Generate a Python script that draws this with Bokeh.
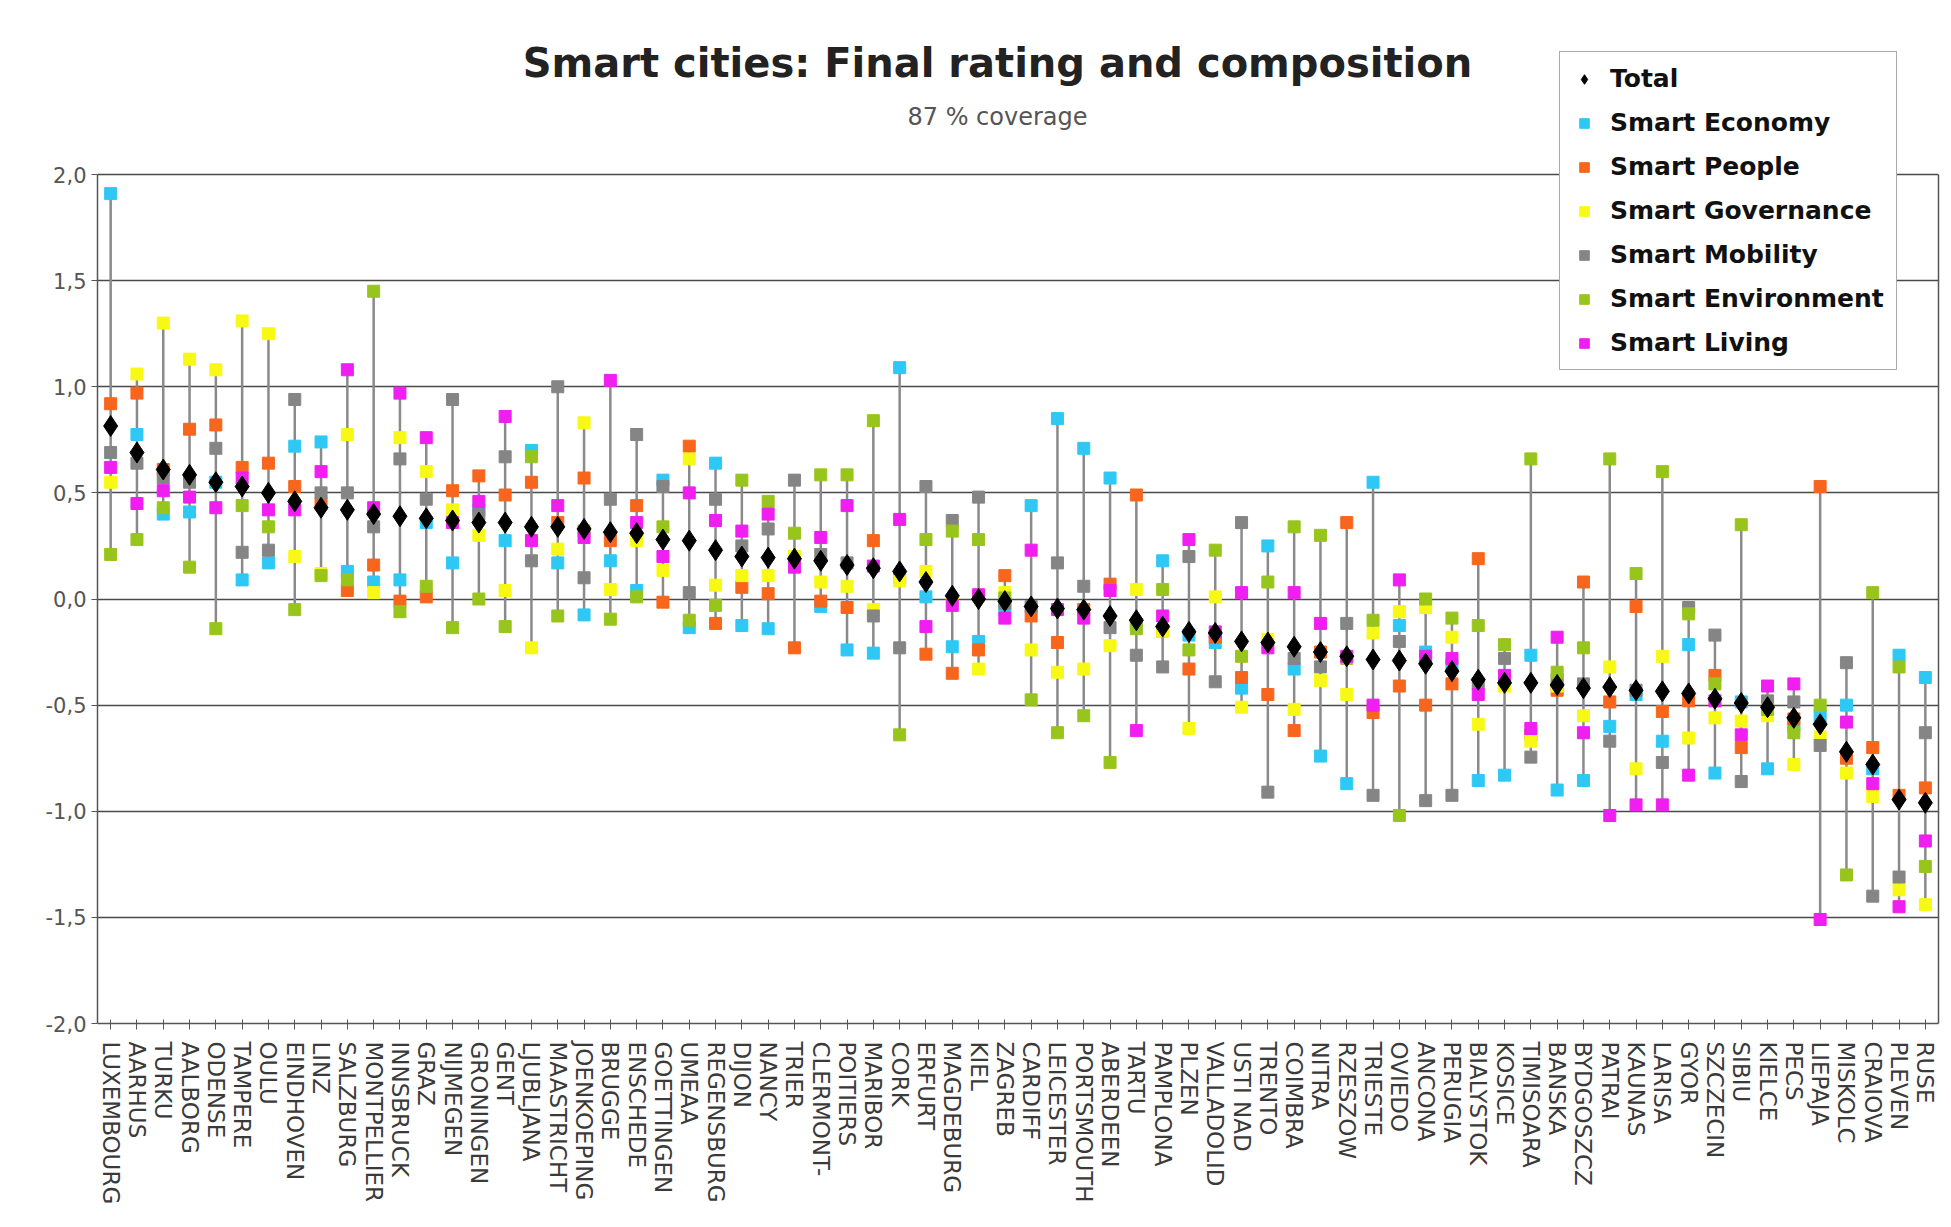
from bokeh.plotting import figure
from bokeh.models import FactorRange, Range1d, FixedTicker, Legend, LegendItem, Label, LinearAxis
from bokeh.embed import file_html
from bokeh.resources import INLINE

cities = ["LUXEMBOURG", "AARHUS", "TURKU", "AALBORG", "ODENSE", "TAMPERE", "OULU", "EINDHOVEN", "LINZ", "SALZBURG",
          "MONTPELLIER", "INNSBRUCK", "GRAZ", "NIJMEGEN", "GRONINGEN", "GENT", "LJUBLJANA", "MAASTRICHT", "JOENKOEPING", "BRUGGE",
          "ENSCHEDE", "GOETTINGEN", "UMEAA", "REGENSBURG", "DIJON", "NANCY", "TRIER", "CLERMONT-", "POITIERS", "MARIBOR",
          "CORK", "ERFURT", "MAGDEBURG", "KIEL", "ZAGREB", "CARDIFF", "LEICESTER", "PORTSMOUTH", "ABERDEEN", "TARTU",
          "PAMPLONA", "PLZEN", "VALLADOLID", "USTI NAD", "TRENTO", "COIMBRA", "NITRA", "RZESZOW", "TRIESTE", "OVIEDO",
          "ANCONA", "PERUGIA", "BIALYSTOK", "KOSICE", "TIMISOARA", "BANSKA", "BYDGOSZCZ", "PATRAI", "KAUNAS", "LARISA",
          "GYOR", "SZCZECIN", "SIBIU", "KIELCE", "PECS", "LIEPAJA", "MISKOLC", "CRAIOVA", "PLEVEN", "RUSE"]

total = [0.815, 0.69, 0.61, 0.585, 0.55, 0.53, 0.50, 0.46, 0.43, 0.42,
         0.40, 0.39, 0.38, 0.37, 0.36, 0.36, 0.34, 0.34, 0.33, 0.315,
         0.31, 0.28, 0.275, 0.23, 0.20, 0.195, 0.19, 0.18, 0.16, 0.145,
         0.13, 0.08, 0.015, 0.0, -0.01, -0.035, -0.045, -0.05, -0.08, -0.10,
         -0.13, -0.155, -0.16, -0.20, -0.205, -0.225, -0.25, -0.27, -0.285, -0.29,
         -0.305, -0.34, -0.38, -0.395, -0.395, -0.405, -0.42, -0.415, -0.43, -0.435,
         -0.445, -0.47, -0.49, -0.51, -0.56, -0.59, -0.72, -0.78, -0.945, -0.96]

economy = [1.91, 0.775, 0.40, 0.41, 0.55, 0.09, 0.17, 0.72, 0.74, 0.13,
           0.08, 0.09, 0.36, 0.17, 0.42, 0.275, 0.70, 0.17, -0.075, 0.18,
           0.04, 0.56, -0.135, 0.64, -0.125, -0.14, 0.20, -0.035, -0.24, -0.255,
           1.09, 0.01, -0.225, -0.20, -0.05, 0.44, 0.85, 0.71, 0.57, -0.12,
           0.18, -0.17, -0.205, -0.42, 0.25, -0.33, -0.74, -0.87, 0.55, -0.125,
           -0.25, -0.31, -0.855, -0.83, -0.265, -0.90, -0.855, -0.60, -0.45, -0.67,
           -0.215, -0.82, -0.485, -0.80, -0.60, -0.55, -0.50, -0.80, -0.265, -0.37]

people = [0.92, 0.97, 0.61, 0.80, 0.82, 0.62, 0.64, 0.53, 0.45, 0.04,
          0.16, -0.01, 0.01, 0.51, 0.58, 0.49, 0.55, 0.36, 0.57, 0.275,
          0.44, -0.015, 0.72, -0.115, 0.055, 0.025, -0.23, -0.01, -0.04, 0.275,
          0.10, -0.26, -0.35, -0.24, 0.11, -0.08, -0.205, -0.05, 0.07, 0.49,
          -0.15, -0.33, -0.18, -0.37, -0.45, -0.62, -0.25, 0.36, -0.535, -0.41,
          -0.50, -0.40, 0.19, -0.38, -0.64, -0.43, 0.08, -0.485, -0.035, -0.53,
          -0.48, -0.36, -0.70, -0.50, -0.565, 0.53, -0.75, -0.70, -0.925, -0.89]

governance = [0.55, 1.06, 1.30, 1.13, 1.08, 1.31, 1.25, 0.20, 0.12, 0.775,
              0.03, 0.76, 0.60, 0.42, 0.30, 0.04, -0.23, 0.235, 0.83, 0.045,
              0.275, 0.135, 0.66, 0.065, 0.11, 0.11, 0.20, 0.08, 0.06, -0.05,
              0.085, 0.13, -0.01, -0.33, 0.03, -0.24, -0.345, -0.33, -0.22, 0.045,
              -0.15, -0.61, 0.01, -0.51, -0.19, -0.52, -0.385, -0.45, -0.16, -0.06,
              -0.04, -0.18, -0.59, -0.41, -0.67, -0.41, -0.55, -0.32, -0.80, -0.27,
              -0.655, -0.56, -0.575, -0.55, -0.78, -0.65, -0.82, -0.93, -1.37, -1.44]

mobility = [0.69, 0.64, 0.57, 0.55, 0.71, 0.22, 0.23, 0.94, 0.50, 0.50,
            0.34, 0.66, 0.47, 0.94, 0.40, 0.67, 0.18, 1.0, 0.10, 0.47,
            0.775, 0.53, 0.03, 0.47, 0.25, 0.33, 0.56, 0.21, 0.17, -0.08,
            -0.23, 0.53, 0.37, 0.48, -0.02, -0.035, 0.17, 0.06, -0.135, -0.265,
            -0.32, 0.20, -0.39, 0.36, -0.91, -0.28, -0.32, -0.115, -0.925, -0.20,
            -0.95, -0.925, -0.40, -0.28, -0.745, -0.38, -0.40, -0.67, -0.43, -0.77,
            -0.04, -0.17, -0.86, -0.48, -0.485, -0.69, -0.30, -1.40, -1.31, -0.63]

environment = [0.21, 0.28, 0.43, 0.15, -0.14, 0.44, 0.34, -0.05, 0.11, 0.09,
               1.45, -0.06, 0.06, -0.135, 0.0, -0.13, 0.67, -0.08, 0.32, -0.095,
               0.01, 0.34, -0.10, -0.03, 0.56, 0.46, 0.31, 0.585, 0.585, 0.84,
               -0.64, 0.28, 0.32, 0.28, 0.005, -0.475, -0.63, -0.55, -0.77, -0.14,
               0.045, -0.24, 0.23, -0.27, 0.08, 0.34, 0.30, -0.28, -0.10, -1.02,
               0.0, -0.09, -0.125, -0.215, 0.66, -0.345, -0.23, 0.66, 0.12, 0.60,
               -0.07, -0.40, 0.35, -0.52, -0.63, -0.50, -1.30, 0.03, -0.32, -1.26]

living = [0.62, 0.45, 0.51, 0.48, 0.43, 0.57, 0.42, 0.42, 0.60, 1.08,
          0.43, 0.97, 0.76, 0.36, 0.46, 0.86, 0.275, 0.44, 0.29, 1.03,
          0.36, 0.20, 0.50, 0.37, 0.32, 0.40, 0.15, 0.29, 0.44, 0.155,
          0.375, -0.13, -0.03, 0.02, -0.09, 0.23, -0.05, -0.09, 0.04, -0.62,
          -0.08, 0.28, -0.155, 0.03, -0.23, 0.03, -0.115, -0.27, -0.50, 0.09,
          -0.27, -0.28, -0.45, -0.36, -0.61, -0.18, -0.63, -1.02, -0.97, -0.97,
          -0.83, -0.48, -0.64, -0.41, -0.40, -1.51, -0.58, -0.87, -1.45, -1.14]

series_names = ["Smart Economy", "Smart People", "Smart Governance", "Smart Mobility", "Smart Environment", "Smart Living"]
series_values = [economy, people, governance, mobility, environment, living]
series_colors = ["#2ec8f5", "#f7661c", "#f8f815", "#858585", "#98c51c", "#f01ef0"]

y_ticks = [-2.0, -1.5, -1.0, -0.5, 0.0, 0.5, 1.0, 1.5, 2.0]
y_tick_labels = ["-2,0", "-1,5", "-1,0", "-0,5", "0,0", "0,5", "1,0", "1,5", "2,0"]

title_text = "Smart cities: Final rating and composition"
subtitle_text = "87 % coverage"

FONT = "DejaVu Sans"
GRID = "#4a4a4a"

# Plot frame extends above 2,0 so that the legend may overlap the header area
p = figure(x_range=FactorRange(*cities), y_range=Range1d(-2.0, 2.7727),
           width=1942, height=1215, output_backend="svg", toolbar_location=None,
           min_border_left=97, min_border_right=4, min_border_top=10, min_border_bottom=192,
           background_fill_color="white", border_fill_color="white")

p.outline_line_color = None
p.xgrid.grid_line_color = None
p.ygrid.ticker = FixedTicker(ticks=y_ticks)
p.ygrid.grid_line_color = GRID
p.ygrid.grid_line_width = 1.5

p.yaxis.ticker = FixedTicker(ticks=y_ticks)
p.yaxis.bounds = (-2.0, 2.0)
p.yaxis.major_label_overrides = {t: l for t, l in zip(y_ticks, y_tick_labels)}
p.yaxis.major_label_text_font = FONT
p.yaxis.major_label_text_font_size = "21px"
p.yaxis.major_label_text_color = "#555555"
p.yaxis.axis_line_color = "#555555"
p.yaxis.axis_line_width = 1.5
p.yaxis.major_tick_line_color = "#555555"
p.yaxis.major_tick_in = 0
p.yaxis.major_tick_out = 6
p.yaxis.minor_tick_line_color = None

# right edge of the plot box (no ticks, no labels)
right_axis = LinearAxis(ticker=FixedTicker(ticks=[]), bounds=(-2.0, 2.0),
                        axis_line_color="#555555", axis_line_width=1.5,
                        major_tick_line_color=None, minor_tick_line_color=None,
                        major_label_standoff=0)
p.add_layout(right_axis, "right")

p.xaxis.major_label_orientation = "vertical"
p.xaxis.major_label_text_font = FONT
p.xaxis.major_label_text_font_size = "23px"
p.xaxis.major_label_text_color = "#3a3a3a"
p.xaxis.major_label_standoff = 12
p.xaxis.axis_line_color = "#555555"
p.xaxis.axis_line_width = 1.5
p.xaxis.major_tick_line_color = "#555555"
p.xaxis.major_tick_in = 4
p.xaxis.major_tick_out = 6

all_series = series_values + [total]
lo = [min(vals) for vals in zip(*all_series)]
hi = [max(vals) for vals in zip(*all_series)]
p.segment(x0=cities, y0=lo, x1=cities, y1=hi, line_color="#8a8a8a", line_width=2.5)

renderers = []
for name, vals, col in zip(series_names, series_values, series_colors):
    r = p.scatter(x=cities, y=vals, marker="square", size=12, fill_color=col, line_color=col)
    renderers.append((name, r))
rt = p.scatter(x=cities, y=total, marker="diamond", size=21, fill_color="black", line_color="black")

p.add_layout(Label(x=900, y=961, x_units="screen", y_units="screen", text=title_text,
                   text_font=FONT, text_font_size="40px", text_font_style="bold",
                   text_color="#222222", text_align="center", text_baseline="middle"))
p.add_layout(Label(x=900, y=907, x_units="screen", y_units="screen", text=subtitle_text,
                   text_font=FONT, text_font_size="24px", text_color="#555555",
                   text_align="center", text_baseline="middle"))

items = [LegendItem(label="Total", renderers=[rt])] + [LegendItem(label=n, renderers=[r]) for n, r in renderers]
legend = Legend(items=items, location=(1462, 653), orientation="vertical",
                label_text_font=FONT, label_text_font_size="25px", label_text_font_style="bold",
                label_text_color="#111111", glyph_width=24, glyph_height=24, label_standoff=14,
                label_height=25, spacing=15, padding=12, margin=0,
                border_line_color="#555555", border_line_width=1.5, background_fill_color="white",
                background_fill_alpha=1.0)
p.add_layout(legend, "center")

open("out.html", "w").write(file_html(p, INLINE))
